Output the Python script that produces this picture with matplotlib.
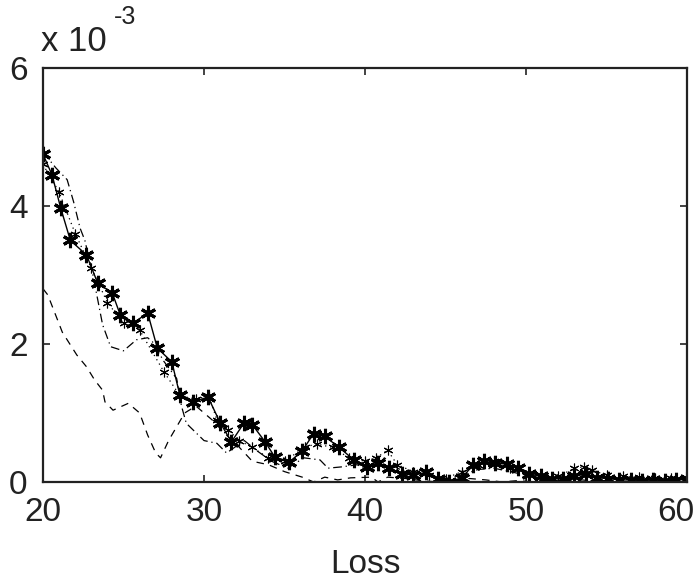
import numpy as np
import matplotlib.pyplot as plt
import matplotlib.transforms as mtransforms

plt.rcParams['font.family'] = ['Liberation Sans', 'DejaVu Sans']

# values are in units of 1e-3
loss_a = [20.0, 20.56, 21.1, 21.7, 22.7, 23.4, 24.3, 24.8, 25.6, 26.5, 27.1, 28.0,
          28.5, 29.3, 30.25, 31.0, 31.7, 32.5, 33.0, 33.8, 34.4, 35.3, 36.1, 36.8,
          37.5, 38.4, 39.3, 40.1, 40.8, 41.5, 42.3, 43.0, 43.8, 44.5, 45.2, 46.0,
          46.7, 47.4, 48.1, 48.8, 49.5, 50.2, 50.9, 51.6, 52.3, 53.0, 53.7, 54.4,
          55.1, 55.8, 56.5, 57.2, 57.9, 58.6, 59.3, 60.0]
prob_a = [4.75, 4.45, 3.97, 3.5, 3.29, 2.88, 2.74, 2.42, 2.3, 2.45, 1.94, 1.74,
          1.26, 1.16, 1.23, 0.86, 0.58, 0.86, 0.83, 0.58, 0.36, 0.29, 0.45, 0.7,
          0.66, 0.5, 0.32, 0.22, 0.28, 0.2, 0.12, 0.1, 0.14, 0.05, 0.0, 0.06,
          0.24, 0.3, 0.27, 0.26, 0.2, 0.12, 0.08, 0.05, 0.04, 0.08, 0.12, 0.06,
          0.05, 0.03, 0.03, 0.02, 0.03, 0.02, 0.03, 0.04]

loss_b = [20.0, 20.8, 21.5, 21.9, 22.3, 22.6, 23.1, 23.7, 24.2, 25.0, 25.8, 26.5,
          26.8, 27.5, 28.3, 28.6, 28.9, 30.0, 30.8, 31.4, 32.5, 33.3, 34.2, 35.2,
          36.2, 37.2, 37.7, 38.6, 39.5, 40.5, 41.2, 42.0, 43.0, 44.0, 45.0, 46.0,
          47.0, 48.0, 49.0, 50.0, 51.0, 52.0, 53.0, 54.0, 55.0, 56.0, 57.0, 58.0,
          59.0, 60.0]
prob_b = [4.78, 4.55, 4.38, 4.06, 3.68, 3.5, 3.0, 2.28, 1.96, 1.9, 2.06, 2.09,
          2.03, 1.75, 1.5, 1.1, 0.85, 0.6, 0.56, 0.42, 0.6, 0.45, 0.3, 0.2,
          0.35, 0.32, 0.2, 0.22, 0.25, 0.15, 0.35, 0.2, 0.1, 0.08, 0.05, 0.1,
          0.18, 0.2, 0.15, 0.1, 0.06, 0.05, 0.1, 0.12, 0.06, 0.04, 0.03, 0.03,
          0.02, 0.02]

loss_c = [20.0, 20.3, 20.9, 21.2, 22.1, 22.7, 23.2, 23.7, 23.85, 24.35, 25.3, 26.0,
          26.5, 27.0, 27.3, 27.8, 28.3, 28.8, 29.5, 30.5, 31.3, 32.0, 33.0, 34.0,
          35.0, 36.1, 36.8, 37.5, 38.3, 39.1, 40.4, 40.8, 41.4, 42.5, 43.5, 44.5,
          45.5, 46.5, 47.5, 48.5, 49.5, 50.5, 51.5, 52.5, 53.5, 54.5, 55.5, 56.5,
          57.5, 58.5, 59.5, 60.0]
prob_c = [2.8, 2.71, 2.35, 2.17, 1.84, 1.67, 1.48, 1.33, 1.16, 1.04, 1.14, 1.0,
          0.68, 0.42, 0.35, 0.6, 0.8, 1.0, 1.1, 0.9, 0.7, 0.55, 0.3, 0.25,
          0.15, 0.07, 0.0, 0.07, 0.03, 0.06, 0.07, 0.0, 0.07, 0.05, 0.02, 0.0,
          0.03, 0.05, 0.03, 0.0, 0.02, 0.0, 0.02, 0.01, 0.03, 0.0, 0.01, 0.0,
          0.01, 0.0, 0.01, 0.0]

loss_d = [20.0, 21.0, 22.0, 23.0, 24.0, 25.0, 26.0, 27.5, 28.5, 29.5, 30.3, 30.8,
          31.5, 32.2, 33.0, 34.0, 35.0, 36.3, 37.0, 38.0, 39.0, 40.0, 40.7, 41.4,
          42.0, 43.0, 44.0, 45.0, 46.0, 47.0, 48.0, 49.0, 50.0, 51.0, 52.0, 53.0,
          53.6, 54.1, 55.0, 56.0, 57.0, 58.0, 59.0, 60.0]
prob_d = [4.6, 4.2, 3.6, 3.1, 2.6, 2.3, 2.2, 1.6, 1.25, 1.2, 1.25, 0.9,
          0.75, 0.6, 0.5, 0.35, 0.3, 0.51, 0.55, 0.5, 0.35, 0.3, 0.35, 0.46,
          0.25, 0.15, 0.1, 0.05, 0.15, 0.25, 0.3, 0.2, 0.1, 0.05, 0.08, 0.2,
          0.22, 0.17, 0.1, 0.08, 0.07, 0.06, 0.06, 0.06]

x_ticks = [20, 30, 40, 50, 60]
y_ticks = [0, 2, 4, 6]

fig = plt.figure(figsize=(6.99, 5.8), dpi=100)
ax = fig.add_axes([0.0615, 0.169, 0.9215, 0.714])

asterisk = (6, 2, 0)
ax.plot(loss_c, prob_c, ls=(0, (6, 5)), color='black', lw=0.9)
ax.plot(loss_b, prob_b, ls=(0, (7, 3, 1, 3)), color='black', lw=0.9)
ax.plot(loss_d, prob_d, ls=(0, (1, 3)), color='black', lw=0.9,
        marker=asterisk, ms=7, mew=0.8)
ax.plot(loss_a, prob_a, ls='-', color='black', lw=1.0,
        marker=asterisk, ms=11, mew=2.2)

ax.set_xlim(20, 60)
ax.set_ylim(0, 6)
ax.set_xticks(x_ticks)
ax.set_yticks(y_ticks)
ax.tick_params(direction='in', length=5, width=1.2, top=True, right=True,
               labelsize=24, pad=11, colors='#222222')
for s in ax.spines.values():
    s.set_linewidth(1.6)
    s.set_color('#222222')
ax.set_xlabel('Loss', fontsize=24, color='#222222', labelpad=15)

# last x label is nudged inside the figure, as in the original
last = ax.get_xticklabels()[-1]
last.set_transform(last.get_transform() +
                   mtransforms.ScaledTranslation(-0.11, 0, fig.dpi_scale_trans))

fig.text(0.058, 0.912, 'x 10', fontsize=25, color='#222222')
fig.text(0.163, 0.958, '-3', fontsize=18, color='#222222')

fig.savefig('out.png', dpi=100)
